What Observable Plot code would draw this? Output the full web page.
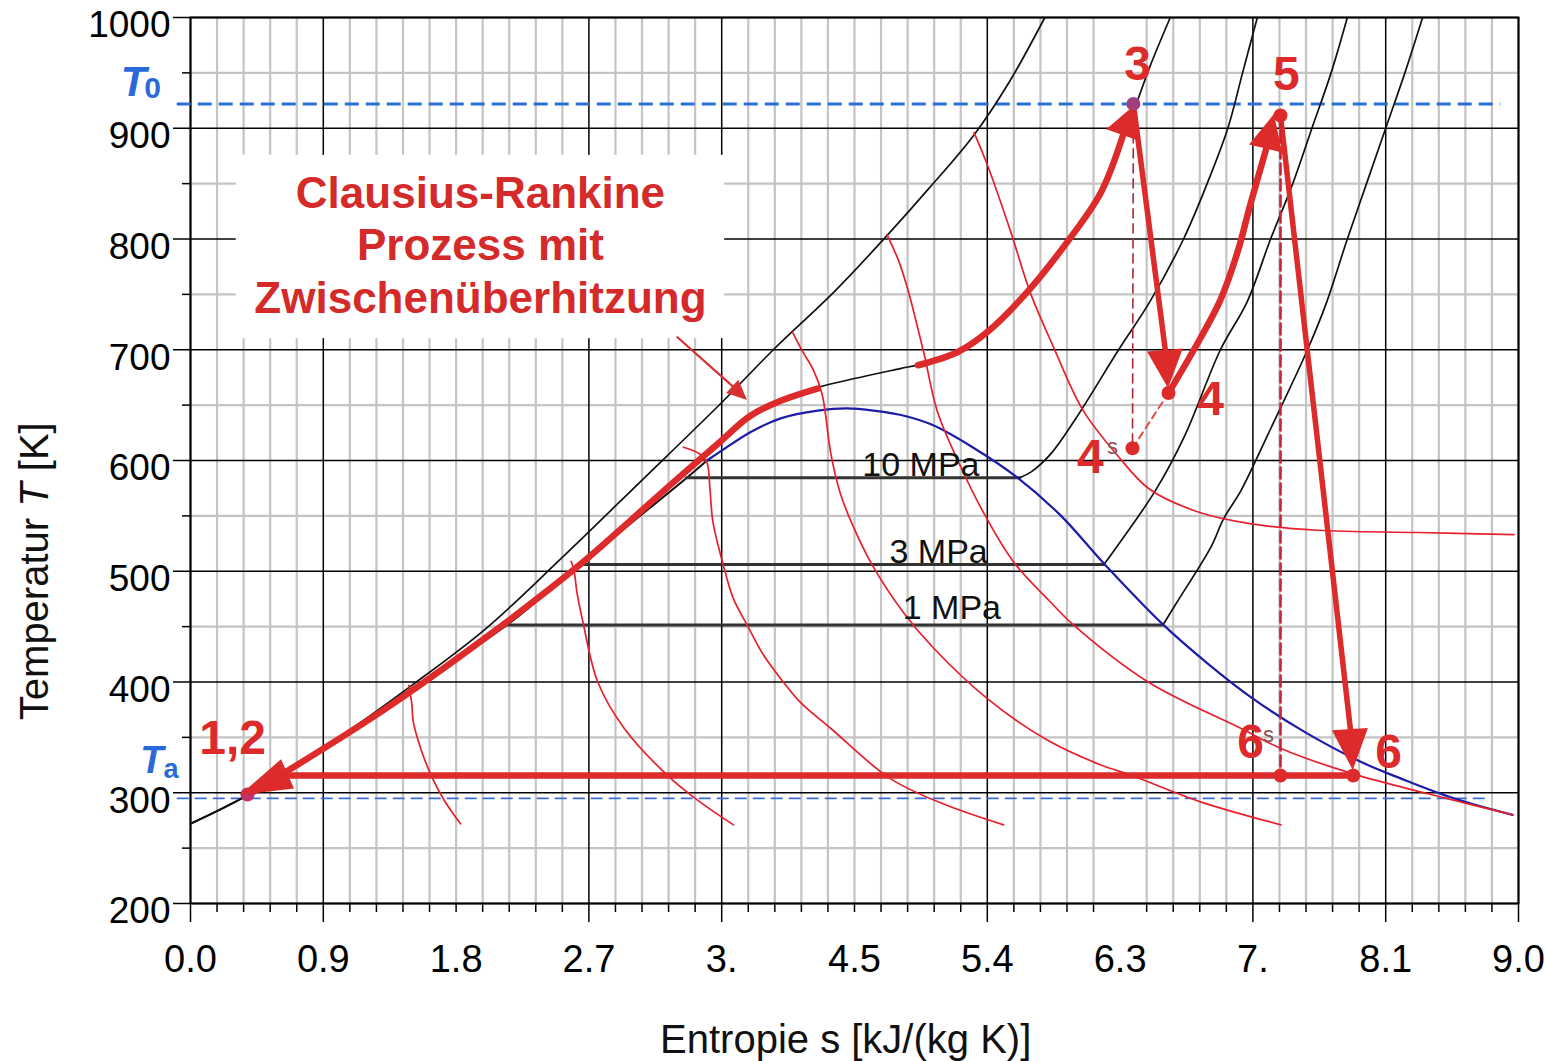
<!DOCTYPE html>
<html><head><meta charset="utf-8">
<script src="https://cdn.jsdelivr.net/npm/d3@7"></script>
<script src="https://cdn.jsdelivr.net/npm/@observablehq/plot@0.6"></script>
<style>body{margin:0;background:#fff} svg{display:block}</style>
</head><body><div id="chart"></div>
<script>
// ---------- axis ticks ----------
const xLabelPos = [0, 0.9, 1.8, 2.7, 3.6, 4.5, 5.4, 6.3, 7.2, 8.1, 9.0];
const xTickLabels = ["0.0", "0.9", "1.8", "2.7", "3.", "4.5", "5.4", "6.3", "7.", "8.1", "9.0"];
const xMajorGrid = [0, 0.9, 2.7, 3.6, 5.4, 7.2, 8.1, 9.0];
const xMissingGrid = [6.3];
const yTicks = [200, 300, 400, 500, 600, 700, 800, 900, 1000];
const yTickLabels = ["200", "300", "400", "500", "600", "700", "800", "900", "1000"];
const yMinor = [250, 350, 450, 550, 650, 750, 850, 950];

// ---------- reference temperatures ----------
const T0 = 922, Ta = 295;

// ---------- saturation lines ----------
const satLiquid = [[0,272],[0.39,298],[0.95,345],[1.5,394],[2.14,451],[2.63,505],[3.0,545],[3.36,584],[3.5,600]];
const satDome = [[3.5,600],[3.59,608],[3.8,626],[4.0,638],[4.25,645],[4.45,647],[4.63,645],[4.85,640],[5.03,632],[5.3,612],[5.6,585],[5.9,550],[6.19,507],[6.59,452],[6.9,416],[7.2,385],[7.55,355],[7.93,328],[8.2,313],[8.56,295],[8.96,280]];

// ---------- isobars ----------
const p10Flat = [[3.36,584.5],[5.62,584.5]];
const p10Vap  = [[5.62,584.5],[5.7,590],[5.83,606],[6.0,638],[6.29,700],[6.5,743],[6.73,800],[6.89,850],[7.03,900],[7.13,950],[7.23,1000]];
const p3Flat  = [[2.66,506],[6.19,506]];
const p3Vap   = [[6.19,506],[6.25,517],[6.54,573],[6.74,623],[6.98,700],[7.16,743],[7.32,800],[7.47,850],[7.6,900],[7.73,950],[7.84,1000]];
const p1Flat  = [[2.15,451.5],[6.59,451.5]];
const p1Vap   = [[6.59,451.5],[6.69,473],[6.92,523],[7.0,547],[7.12,573],[7.3,623],[7.57,700],[7.7,743],[7.84,800],[7.97,850],[8.1,900],[8.23,950],[8.35,1000]];
const pHigh   = [[0,272],[0.39,298],[1.29,373],[2.0,440],[2.64,506],[3.0,548],[3.27,580],[3.59,619],[3.79,642],[4.0,655],[4.25,666],[4.5,674],[4.81,683],[4.95,687],[5.2,698],[5.4,716],[5.67,752],[5.94,797],[6.17,845],[6.39,915],[6.5,955],[6.64,1000]];
const pTop    = [[0.39,298],[0.95,345],[1.5,397],[2.0,448],[2.5,510],[3.05,581],[3.59,651],[3.95,700],[4.36,752],[4.72,803],[5.0,845],[5.31,894],[5.55,942],[5.79,1000]];

// ---------- isenthalps (thin red) ----------
const h1 = [[1.48,397],[1.5,380],[1.51,364],[1.56,340],[1.63,316],[1.72,293],[1.83,272]];
const h2 = [[2.58,509],[2.6,500],[2.62,480],[2.66,454],[2.76,400],[2.94,358],[3.23,316],[3.45,292],[3.68,271]];
const h3 = [[3.34,612],[3.45,606],[3.5,598],[3.52,575],[3.54,545],[3.61,506],[3.68,475],[3.77,452],[3.88,425],[4.0,403],[4.13,382],[4.34,358],[4.74,313],[5.1,290],[5.51,271]];
const h4 = [[4.08,716],[4.15,698],[4.22,682],[4.28,660],[4.34,606],[4.4,572],[4.47,547],[4.61,508],[4.83,463],[5.04,430],[5.4,385],[5.8,348],[6.17,325],[6.37,316],[6.84,292],[7.39,271]];
const h5 = [[4.72,804],[4.8,780],[4.86,755],[4.97,697],[5.06,645],[5.2,600],[5.37,554],[5.58,508],[5.83,472],[5.98,452],[6.49,400],[7.12,358],[7.39,340],[7.88,317],[8.42,298],[8.96,280]];
const h6 = [[5.31,896],[5.4,867],[5.56,806],[5.69,752],[5.85,702],[6.05,645],[6.28,605],[6.5,574],[6.84,553],[7.18,543],[7.64,537],[8.32,535],[8.97,533]];

// ---------- process (thick red) ----------
const pt12 = [0.386, 298.4], pt3 = [6.39, 922], pt4 = [6.628, 661], pt4s = [6.384, 611], pt5 = [7.387, 911.5], pt6s = [7.387, 315.6], pt6 = [7.88, 315.6];
const heatA = [[0.39,298],[1.29,373],[2.0,440],[2.64,506],[3.0,548],[3.27,580],[3.59,617],[3.79,640],[4.0,654],[4.25,665]];
const heatB = [[4.93,686],[5.2,698],[5.4,716],[5.67,752],[5.94,797],[6.17,842],[6.318,893]];
const reheat = [[6.628,661],[6.8,700],[6.98,745],[7.1,790],[7.18,830],[7.289,881]];
const expand1 = [pt3, [6.607, 699]];
const expand2 = [pt5, [7.861, 357]];
const condense = [pt6, [0.661, 315.6]];
const dash34 = [pt3, pt4s], dash44 = [pt4s, pt4], dash56 = [pt5, pt6s];
const dotsP = [pt12, pt3, pt4, pt4s, pt5, pt6s, pt6];
const dotsC = ["#c0306a", "#a0407e", "#dd2a2a", "#dd2a2a", "#dd2a2a", "#dd2a2a", "#dd2a2a"];

// arrowheads: base-mid and tip in data units
const headBase = [[6.318,893.5],[6.607,699.3],[7.289,881.3],[7.861,357],[0.661,316.6],[3.675,666.5]];
const headTip  = [[6.385,918.8],[6.628,665],[7.346,912.4],[7.88,320],[0.339,297.5],[3.775,654.2]];
const headHalfW = [17, 18, 17, 18, 16, 9];
const annotArrow = [[3.30,711.3],[3.70,664]];

// ---------- labels ----------
const procLab = ["1,2","3","4","5","6","4","6"];
const procLabS = [0.285, 6.418, 6.913, 7.427, 8.12, 6.099, 7.184];
const procLabT = [349, 957.6, 655, 948.5, 336, 602.7, 345.4];
const supLab = ["s","s"], supS = [6.248, 7.305], supT = [612.6, 352.6];
const pLab = ["10 MPa","3 MPa","1 MPa"], pLabS = [4.95, 5.07, 5.16], pLabT = [596, 517, 467];
const titleText = "Clausius-Rankine\nProzess mit\nZwischenüberhitzung";
const titleBox = {s1: 0.31, s2: 3.62, T1: 710, T2: 875.5};

const FONT = "'Liberation Sans', Arial, sans-serif";
const RED = "#dd2a2a", THIN = "#e8202c";
const ln = (data, o) => Plot.line(data, {x: d => d[0], y: d => d[1], ...o});

const minorX = d3.range(1, 50).map(i => +(i * 0.18).toFixed(2))
  .filter(v => !xMajorGrid.some(m => Math.abs(m - v) < 1e-6) && !xMissingGrid.some(m => Math.abs(m - v) < 1e-6));
const labMap = new Map(xLabelPos.map((p, i) => [p, xTickLabels[i]]));
const yLabMap = new Map(yTicks.map((p, i) => [p, yTickLabels[i]]));

const plot = Plot.plot({
  width: 1545, height: 1061,
  marginLeft: 190, marginRight: 27, marginTop: 17, marginBottom: 158,
  x: {domain: [0, 9]}, y: {domain: [200, 1000]},
  style: {fontFamily: FONT, background: "white", color: "black"},
  marks: [
    Plot.ruleX(minorX, {stroke: "#c4c4c4", strokeWidth: 2.2}),
    Plot.ruleY(yMinor, {stroke: "#c4c4c4", strokeWidth: 2.2}),
    Plot.ruleX(xMajorGrid, {stroke: "#000", strokeWidth: 1.5}),
    Plot.ruleY(yTicks, {stroke: "#000", strokeWidth: 1.5}),
    Plot.rect([titleBox], {x1: "s1", x2: "s2", y1: "T1", y2: "T2", fill: "white"}),
    Plot.axisY(yTicks, {tickSize: 17, tickFormat: () => "", label: null, strokeWidth: 1.5}),
    Plot.axisY(yTicks, {tickSize: 0, tickPadding: 20, fontSize: 37, dy: 8, tickFormat: d => yLabMap.get(d), label: null}),
    Plot.axisY(yMinor, {tickSize: 8, tickFormat: () => "", label: null, strokeWidth: 1.5}),
    Plot.axisX(xMajorGrid, {tickSize: 19, tickFormat: () => "", label: null, strokeWidth: 1.5}),
    Plot.axisX(minorX, {tickSize: 9, tickFormat: () => "", label: null, strokeWidth: 1.5}),
    Plot.axisX(xLabelPos, {tickSize: 0, tickPadding: 42, fontSize: 38, tickFormat: d => labMap.get(d), label: null}),
    Plot.frame({stroke: "#000", strokeWidth: 2}),
    // reference temperatures
    Plot.ruleY([T0], {x1: -0.09, x2: 8.88, stroke: "#2a6fd6", strokeWidth: 3, strokeDasharray: "14,7"}),
    Plot.ruleY([Ta], {x1: -0.09, x2: 8.78, stroke: "#3a6cd2", strokeWidth: 1.8, strokeDasharray: "12,6"}),
    // black isobars
    ln(pTop, {stroke: "#111", strokeWidth: 1.7, curve: "catmull-rom", clip: true}),
    ln(pHigh, {stroke: "#111", strokeWidth: 1.7, curve: "catmull-rom", clip: true}),
    ln(satLiquid, {stroke: "#111", strokeWidth: 2, curve: "catmull-rom"}),
    ln(p10Flat, {stroke: "#333", strokeWidth: 3}),
    ln(p3Flat, {stroke: "#333", strokeWidth: 3}),
    ln(p1Flat, {stroke: "#333", strokeWidth: 3}),
    ln(p10Vap, {stroke: "#111", strokeWidth: 1.7, curve: "catmull-rom", clip: true}),
    ln(p3Vap, {stroke: "#111", strokeWidth: 1.7, curve: "catmull-rom", clip: true}),
    ln(p1Vap, {stroke: "#111", strokeWidth: 1.7, curve: "catmull-rom", clip: true}),
    // saturation dome
    ln(satDome, {stroke: "#1c1ca8", strokeWidth: 2.2, curve: "catmull-rom"}),
    // isenthalps
    ...[h1, h2, h3, h4, h5, h6].map(h => ln(h, {stroke: THIN, strokeWidth: 1.7, curve: "catmull-rom"})),
    // process
    ln(heatA, {stroke: RED, strokeWidth: 6.5, curve: "catmull-rom", strokeLinecap: "round"}),
    ln(heatB, {stroke: RED, strokeWidth: 6.5, curve: "catmull-rom", strokeLinecap: "round"}),
    ln(reheat, {stroke: RED, strokeWidth: 6.5, curve: "catmull-rom", strokeLinecap: "round"}),
    ln(expand1, {stroke: RED, strokeWidth: 5.5}),
    ln(expand2, {stroke: RED, strokeWidth: 5.5}),
    ln(condense, {stroke: RED, strokeWidth: 6.5}),
    ln(dash34, {stroke: "#a82838", strokeWidth: 1.6, strokeDasharray: "9,6"}),
    ln(dash44, {stroke: "#e04a4a", strokeWidth: 2, strokeDasharray: "7,5"}),
    ln(dash56, {stroke: "#cc2036", strokeWidth: 2.6, strokeDasharray: "11,5"}),
    ln(annotArrow, {stroke: "#d83030", strokeWidth: 2.2}),
    Plot.dot(dotsP, {x: d => d[0], y: d => d[1], r: 7, fill: (d, i) => dotsC[i], stroke: "none"}),
    // labels
    Plot.text([titleText], {x: 1.965, y: 796, text: d => d, fill: "#d42a2a", fontSize: 44, fontWeight: "bold", lineHeight: 1.2, fontFamily: FONT}),
    Plot.text(pLab, {x: (d, i) => pLabS[i], y: (d, i) => pLabT[i], text: d => d, fill: "#111", fontSize: 34, fontFamily: FONT}),
    Plot.text(procLab, {x: (d, i) => procLabS[i], y: (d, i) => procLabT[i], text: d => d, fill: RED, fontSize: 48, fontWeight: "bold", fontFamily: FONT}),
    Plot.text(supLab, {x: (d, i) => supS[i], y: (d, i) => supT[i], text: d => d, fill: "#8a5050", fontSize: 22, fontFamily: FONT}),
    Plot.text(["T"], {x: -0.386, y: 941.3, text: d => d, fill: "#2a6ad8", fontSize: 42, fontWeight: "bold", fontStyle: "italic", fontFamily: FONT}),
    Plot.text(["0"], {x: -0.257, y: 935.9, text: d => d, fill: "#2a6ad8", fontSize: 30, fontWeight: "bold", fontFamily: FONT}),
    Plot.text(["T"], {x: -0.262, y: 329, text: d => d, fill: "#2a6ad8", fontSize: 38, fontWeight: "bold", fontStyle: "italic", fontFamily: FONT}),
    Plot.text(["a"], {x: -0.132, y: 321.5, text: d => d, fill: "#2a6ad8", fontSize: 27, fontWeight: "bold", fontFamily: FONT}),
    Plot.text(["Entropie s [kJ/(kg K)]"], {x: 4.44, y: 77, text: d => d, fill: "#111", fontSize: 40, fontFamily: FONT}),
    Plot.text(["Temperatur T [K]"], {x: -1.05, y: 500, text: d => d, fill: "#111", fontSize: 40, rotate: -90, fontFamily: FONT})
  ]
});

// filled arrowheads via the plot's own scales
const sx = plot.scale("x"), sy = plot.scale("y");
const ns = "http://www.w3.org/2000/svg";
const g = document.createElementNS(ns, "g");
headTip.forEach((tip, i) => {
  const bx = sx.apply(headBase[i][0]), by = sy.apply(headBase[i][1]);
  const tx = sx.apply(tip[0]), ty = sy.apply(tip[1]);
  const dx = tx - bx, dy = ty - by, L = Math.hypot(dx, dy);
  const nx = -dy / L, ny = dx / L, w = headHalfW[i];
  const p = document.createElementNS(ns, "path");
  p.setAttribute("d", `M${tx},${ty}L${bx + nx * w},${by + ny * w}L${bx - nx * w},${by - ny * w}Z`);
  p.setAttribute("fill", i === 5 ? "#d83030" : RED);
  g.appendChild(p);
});
plot.appendChild(g);

// italic symbol in y title
plot.querySelectorAll("text").forEach(t => {
  if (t.textContent === "Temperatur T [K]") {
    t.textContent = "";
    const a = document.createElementNS(ns, "tspan"); a.textContent = "Temperatur ";
    const b = document.createElementNS(ns, "tspan"); b.textContent = "T"; b.setAttribute("font-style", "italic");
    const c = document.createElementNS(ns, "tspan"); c.textContent = " [K]";
    t.append(a, b, c);
  }
});
document.getElementById("chart").appendChild(plot);
</script></body></html>
